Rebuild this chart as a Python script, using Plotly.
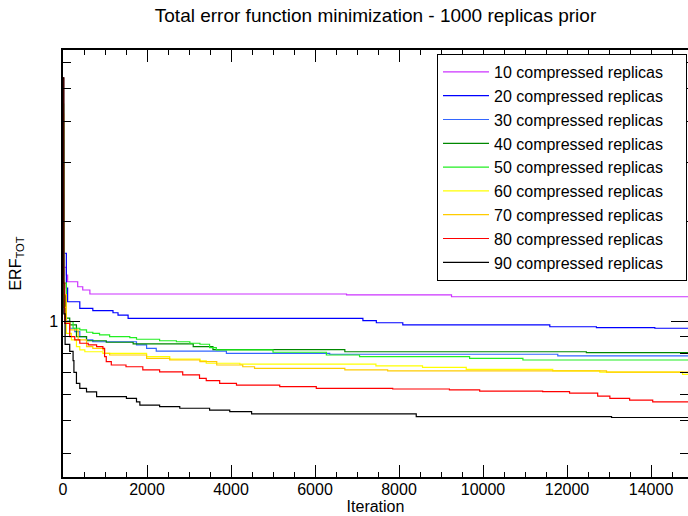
import plotly.graph_objects as go

# ---- data (iteration, ERF_TOT), step curves ----
labels = ["10 compressed replicas", "20 compressed replicas", "30 compressed replicas",
          "40 compressed replicas", "50 compressed replicas", "60 compressed replicas",
          "70 compressed replicas", "80 compressed replicas", "90 compressed replicas"]
colors = ["#cc33ff", "#0000ff", "#3366ff", "#008800", "#22ee22",
          "#ffff00", "#ffcc00", "#ff0000", "#000000"]

it_10 = [0, 15, 80, 110, 350, 470, 640, 6750, 9250, 14900]
erf_10 = [2.4, 1.45, 1.376, 1.313, 1.268, 1.240, 1.206, 1.198, 1.183, 1.183]

it_20 = [0, 15, 80, 110, 400, 710, 1190, 1310, 1550, 7140, 7460, 8090, 11590, 12700, 14090, 14900]
erf_20 = [3.0, 1.6, 1.257, 1.143, 1.092, 1.074, 1.059, 1.042, 1.019, 1.002, 0.988, 0.973,
          0.961, 0.955, 0.951, 0.951]

it_30 = [0, 15, 60, 160, 280, 400, 560, 710, 1750, 1990, 2220, 3890, 6350, 11780, 14900]
erf_30 = [3.5, 1.1, 1.0, 0.951, 0.929, 0.897, 0.877, 0.866, 0.847, 0.827, 0.812, 0.799,
          0.794, 0.785, 0.785]

it_40 = [0, 15, 60, 160, 320, 560, 1030, 1670, 3100, 3570, 6710, 12460, 14900]
erf_40 = [4.0, 1.2, 1.02, 0.973, 0.897, 0.872, 0.863, 0.853, 0.837, 0.820, 0.808, 0.803, 0.803]

it_50 = [0, 15, 80, 240, 400, 560, 710, 870, 1110, 1590, 1750, 2300, 2700, 3020, 3260,
         3490, 3650, 5000, 6270, 7060, 9680, 10950, 14900]
erf_50 = [4.5, 1.3, 0.995, 0.951, 0.940, 0.925, 0.918, 0.908, 0.897, 0.891, 0.881, 0.872,
          0.866, 0.857, 0.851, 0.831, 0.818, 0.805, 0.790, 0.781, 0.772, 0.763, 0.763]

it_60 = [0, 15, 80, 200, 320, 400, 520, 950, 1990, 2540, 3260, 3410, 4210, 7450, 8560,
         9600, 11660, 12780, 14750, 14900]
erf_60 = [3.0, 1.1, 0.918, 0.877, 0.837, 0.818, 0.808, 0.799, 0.781, 0.768, 0.758, 0.746,
          0.741, 0.733, 0.725, 0.715, 0.708, 0.701, 0.691, 0.691]

it_70 = [0, 15, 80, 160, 360, 560, 710, 950, 990, 1110, 1990, 2540, 3260, 3660, 4280,
         4560, 6710, 7730, 12940, 14900]
erf_70 = [4.2, 1.2, 0.995, 0.94, 0.877, 0.837, 0.827, 0.818, 0.799, 0.790, 0.772, 0.763,
          0.754, 0.737, 0.728, 0.720, 0.712, 0.708, 0.701, 0.701]

it_80 = [0, 15, 40, 160, 280, 400, 600, 800, 950, 990, 1030, 1150, 1500, 1900, 2300, 2850,
         3250, 3410, 3730, 4130, 5160, 6030, 7850, 9200, 9920, 11420, 12060, 12730, 13020,
         13490, 14040, 14900]
erf_80 = [5.4, 1.3, 0.984, 0.897, 0.877, 0.857, 0.847, 0.837, 0.827, 0.781, 0.754, 0.737,
          0.728, 0.712, 0.703, 0.688, 0.672, 0.661, 0.649, 0.641, 0.634, 0.627, 0.624, 0.620,
          0.615, 0.613, 0.606, 0.594, 0.585, 0.578, 0.571, 0.571]

it_90 = [0, 20, 50, 160, 240, 260, 320, 400, 560, 800, 1510, 1750, 1830, 2300, 2780, 3490,
         3970, 4490, 8410, 13060, 14900]
erf_90 = [5.4, 1.05, 0.85, 0.81, 0.76, 0.70, 0.649, 0.627, 0.612, 0.592, 0.585, 0.571,
          0.558, 0.552, 0.546, 0.539, 0.533, 0.525, 0.515, 0.512, 0.512]

series_x = [it_10, it_20, it_30, it_40, it_50, it_60, it_70, it_80, it_90]
series_y = [erf_10, erf_20, erf_30, erf_40, erf_50, erf_60, erf_70, erf_80, erf_90]

y_minor = [0.4, 0.5, 0.6, 0.7, 0.8, 0.9, 2, 3, 4, 5, 6]

FONT = "Liberation Sans, Arial, sans-serif"
PAD = "&nbsp;" * 4  # right padding inside the legend box

fig = go.Figure()
for name, col, xs, ys in zip(labels, colors, series_x, series_y):
    fig.add_trace(go.Scatter(x=xs, y=ys, mode="lines", name=name + PAD,
                             line=dict(color=col, width=1.2, shape="hv")))

axis_common = dict(showline=True, linecolor="black", linewidth=1.5, mirror="ticks",
                   ticks="inside", tickcolor="black", tickwidth=1, showgrid=False,
                   zeroline=False, automargin=False,
                   tickfont=dict(family=FONT, size=16, color="black"))

fig.update_layout(
    width=688, height=516,
    margin=dict(l=63, r=0, t=50, b=39, autoexpand=False),
    paper_bgcolor="white", plot_bgcolor="white",
    font=dict(family=FONT, color="black"),
    title=dict(text="Total error function minimization - 1000 replicas prior",
               x=0.5458, xanchor="center", y=0.970, yanchor="middle", yref="container",
               automargin=False,
               font=dict(family=FONT, size=19, color="black")),
    xaxis=dict(range=[0, 14880], tick0=0, dtick=2000, ticklen=12, tickformat="d",
               ticklabelstandoff=-3,
               minor=dict(dtick=500, ticks="inside", ticklen=5, tickcolor="black"),
               title=dict(text="Iteration", font=dict(family=FONT, size=16), standoff=3),
               **axis_common),
    yaxis=dict(type="log", range=[-0.4699, 0.8163], tickmode="array", tickvals=[1],
               ticktext=["1"], ticklen=17,
               minor=dict(tickmode="array", tickvals=y_minor, ticks="inside", ticklen=8,
                          tickcolor="black"),
               title=dict(text="ERF<sub>TOT</sub>", font=dict(family=FONT, size=16),
                          standoff=24),
               **axis_common),
    legend=dict(x=0.9984, xanchor="right", y=0.9906, yanchor="top",
                bgcolor="white", bordercolor="black", borderwidth=1,
                font=dict(family=FONT, size=16, color="black"),
                itemwidth=46, tracegroupgap=0),
    showlegend=True,
)

# remove the browser's default 8px body margin so the figure fills the window exactly
fig.write_html("out.html", config={"displayModeBar": False},
               post_script="document.body.style.margin='0px';")
